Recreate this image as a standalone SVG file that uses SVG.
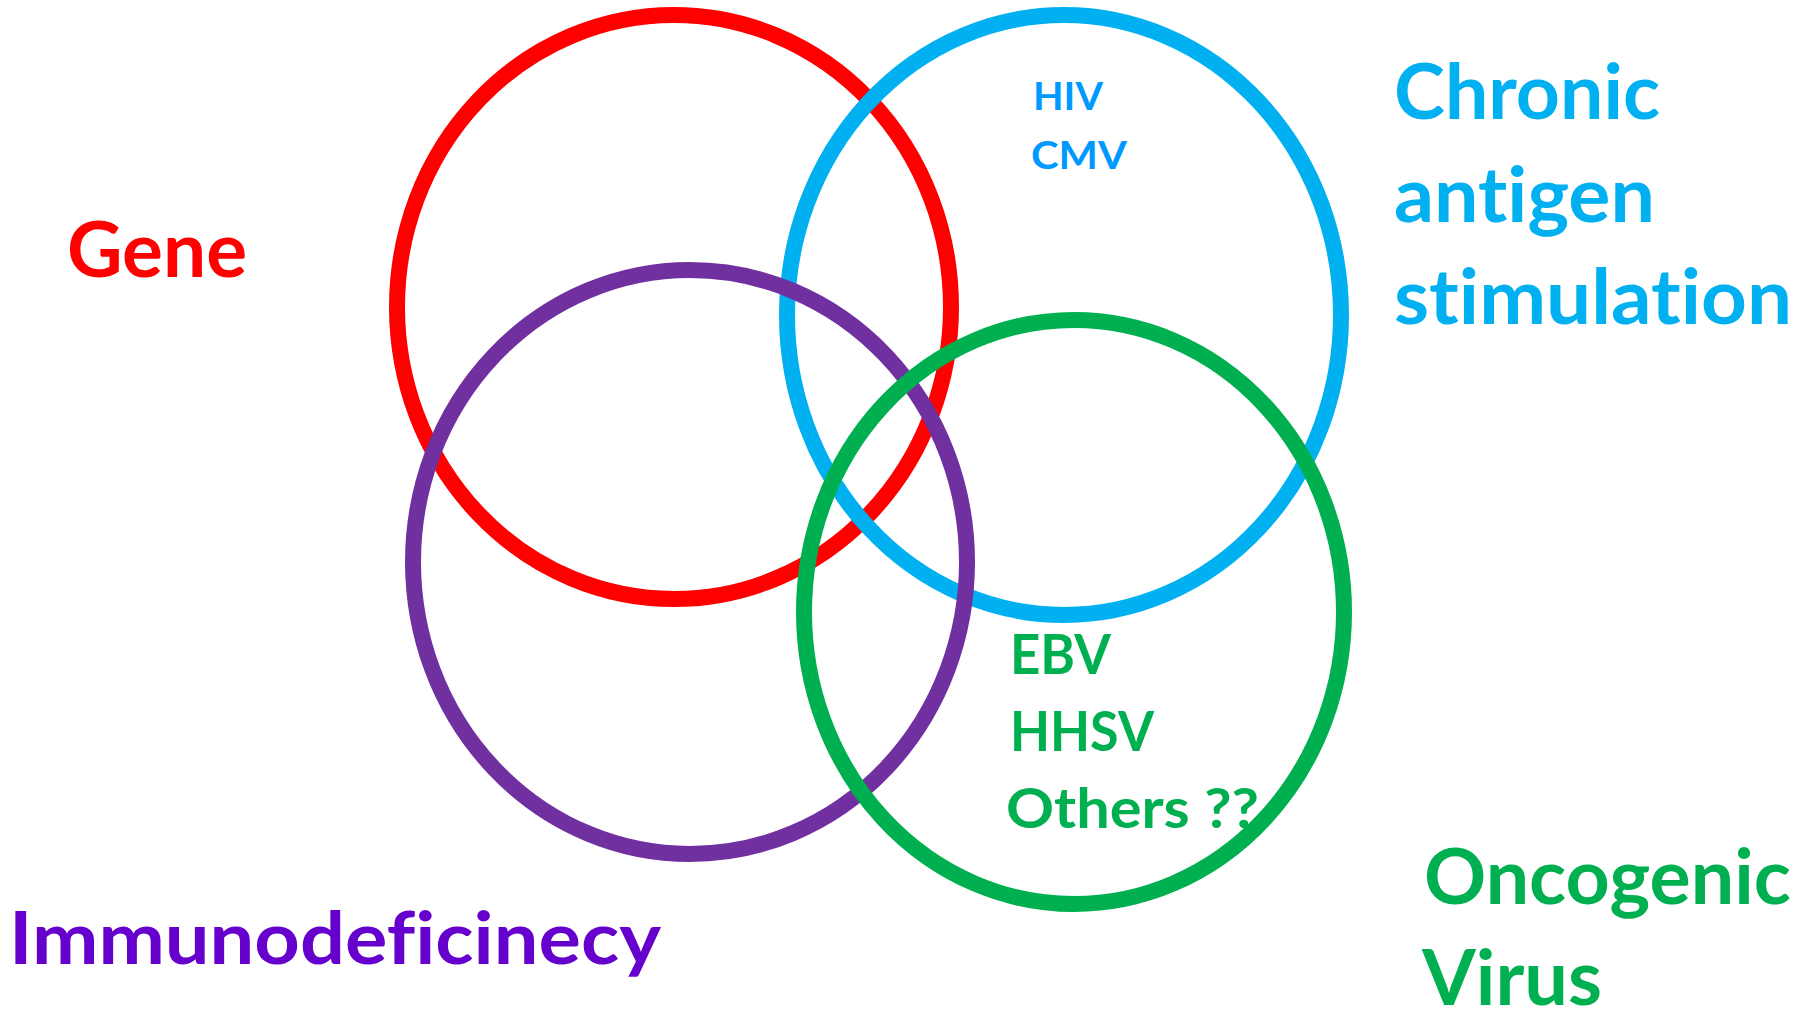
<svg xmlns="http://www.w3.org/2000/svg" width="1800" height="1017" viewBox="0 0 1800 1017">
<style>
.ring{fill:none;stroke-width:16}
.t{font-family:Lato,"Open Sans","Liberation Sans",sans-serif;font-weight:bold;font-variant-ligatures:none;font-feature-settings:"liga" 0,"clig" 0}
.big{font-size:77px}
</style>
<rect width="1800" height="1017" fill="#ffffff"/>
<g id="sets">
<g id="gene-set"><ellipse class="ring" cx="674" cy="307" rx="277" ry="292" stroke="#FF0000"/></g>
<g id="chronic-set"><ellipse class="ring" cx="1064" cy="315" rx="277" ry="300" stroke="#00B0F0"/></g>
<g id="immuno-set"><ellipse class="ring" cx="690" cy="562" rx="277" ry="292" stroke="#7030A0"/></g>
<g id="virus-set"><ellipse class="ring" cx="1074" cy="612" rx="270" ry="292" stroke="#00B050"/></g>
</g>
<g id="connectors"></g>
<g id="labels">
<g id="gene-label"><text class="t big" x="67" y="277" fill="#FF0000" textLength="180" lengthAdjust="spacingAndGlyphs">Gene</text></g>
<g id="chronic-label" fill="#00B0F0">
<text class="t big" x="1394" y="119" textLength="266" lengthAdjust="spacingAndGlyphs">Chronic</text>
<text class="t big" x="1394" y="222" textLength="261" lengthAdjust="spacingAndGlyphs">antigen</text>
<text class="t big" x="1394" y="324" textLength="398" lengthAdjust="spacingAndGlyphs">stimulation</text>
</g>
<g id="chronic-items" fill="#0099FF">
<text class="t" x="1033" y="110" font-size="38" textLength="70" lengthAdjust="spacingAndGlyphs">HIV</text>
<text class="t" x="1031" y="169" font-size="38" textLength="96" lengthAdjust="spacingAndGlyphs">CMV</text>
</g>
<g id="immuno-label"><text class="t" x="9" y="964" font-size="73" fill="#6600CC" textLength="652" lengthAdjust="spacingAndGlyphs">Immunodeficinecy</text></g>
<g id="virus-items" fill="#00B050">
<text class="t" x="1010" y="674" font-size="56" textLength="101" lengthAdjust="spacingAndGlyphs">EBV</text>
<text class="t" x="1010" y="751" font-size="56" textLength="144" lengthAdjust="spacingAndGlyphs">HHSV</text>
<text class="t" x="1006" y="828" font-size="56" textLength="253" lengthAdjust="spacingAndGlyphs">Others ??</text>
</g>
<g id="virus-label" fill="#00B050">
<text class="t big" x="1424" y="904" textLength="367" lengthAdjust="spacingAndGlyphs">Oncogenic</text>
<text class="t big" x="1422" y="1005" textLength="180" lengthAdjust="spacingAndGlyphs">Virus</text>
</g>
</g>
</svg>
